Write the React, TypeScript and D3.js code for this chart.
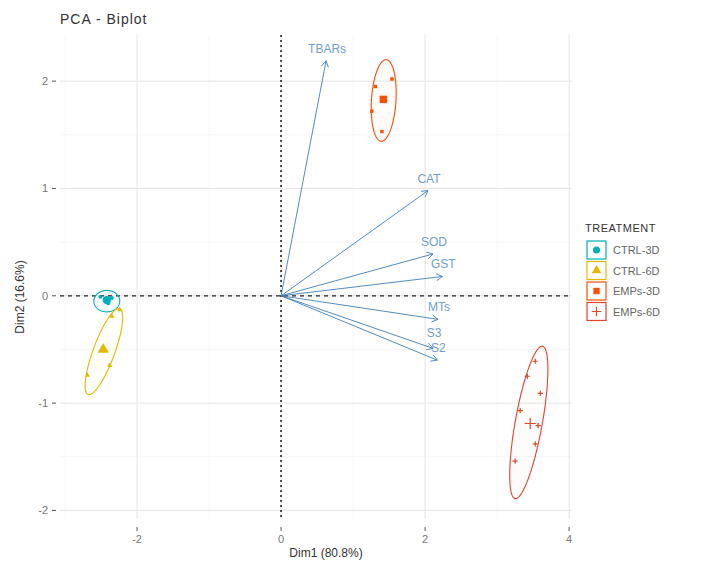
import React, { useEffect, useRef } from 'react';
import * as d3 from 'd3';

// variable arrows (PCA loadings scaled)
const variables = ['TBARs', 'CAT', 'SOD', 'GST', 'MTs', 'S3', 'S2'];
const varX = [0.625, 2.04, 2.11, 2.24, 2.18, 2.11, 2.17];
const varY = [2.19, 0.98, 0.39, 0.18, -0.22, -0.49, -0.6];

// groups
const groups = ['CTRL-3D', 'CTRL-6D', 'EMPs-3D', 'EMPs-6D'];
const groupColors = ['#00AFBB', '#E7B800', '#FC4E07', '#E2452B'];
const groupShapes = ['circle', 'triangle', 'square', 'plus'];
const meanX = [-2.42, -2.47, 1.42, 3.46];
const meanY = [-0.04, -0.5, 1.83, -1.19];

// individuals
const indGroup = [0, 0, 0, 1, 1, 1, 1, 2, 2, 2, 2, 3, 3, 3, 3, 3, 3, 3];
const indX = [-2.51, -2.35, -2.4, -2.35, -2.24, -2.69, -2.38, 1.54, 1.31, 1.26, 1.4, 3.53, 3.42, 3.32, 3.57, 3.53, 3.25, 3.6];
const indY = [-0.01, -0.02, -0.07, -0.19, -0.13, -0.74, -0.65, 2.02, 1.95, 1.72, 1.53, -0.61, -0.75, -1.07, -1.21, -1.38, -1.54, -0.91];

// concentration ellipses: center, major half-axis vector, minor half-axis vector (data units)
const ellCX = [-2.42, -2.46, 1.425, 3.44];
const ellCY = [-0.05, -0.52, 1.82, -1.18];
const ellMajX = [0.18, 0.22, 0.035, 0.19];
const ellMajY = [0.0, 0.4, 0.38, 0.71];
const ellMinX = [0.0, 0.14, 0.17, 0.185];
const ellMinY = [0.1, -0.035, -0.007, -0.022];

const xTicks = [-2, 0, 2, 4];
const yTicks = [-2, -1, 0, 1, 2];
const xMinor = [-3, -1, 1, 3];
const yMinor = [-1.5, -0.5, 0.5, 1.5];

export default function App() {
  const ref = useRef<SVGSVGElement>(null);

  useEffect(() => {
    const svg = d3.select(ref.current);
    svg.selectAll('*').remove();

    const left = 60, right = 572, top = 35, bottom = 519;
    const x = d3.scaleLinear().domain([-3.07, 4.04]).range([left, right]);
    const y = d3.scaleLinear().domain([-2.08, 2.43]).range([bottom, top]);

    svg.append('rect').attr('width', 710).attr('height', 561).attr('fill', '#fff');

    const grid = svg.append('g');
    xMinor.forEach(v => grid.append('line').attr('x1', x(v)).attr('x2', x(v)).attr('y1', top).attr('y2', bottom)
      .attr('stroke', '#f0f0f0').attr('stroke-width', 0.6));
    yMinor.forEach(v => grid.append('line').attr('y1', y(v)).attr('y2', y(v)).attr('x1', left).attr('x2', right)
      .attr('stroke', '#f0f0f0').attr('stroke-width', 0.6));
    xTicks.forEach(v => grid.append('line').attr('x1', x(v)).attr('x2', x(v)).attr('y1', top).attr('y2', bottom)
      .attr('stroke', '#e4e4e4').attr('stroke-width', 1));
    yTicks.forEach(v => grid.append('line').attr('y1', y(v)).attr('y2', y(v)).attr('x1', left).attr('x2', right)
      .attr('stroke', '#e4e4e4').attr('stroke-width', 1));

    // axes text
    const axisFont = 'Liberation Sans, Arial, sans-serif';
    xTicks.forEach(v => {
      svg.append('line').attr('x1', x(v)).attr('x2', x(v)).attr('y1', bottom + 8).attr('y2', bottom + 12)
        .attr('stroke', '#555').attr('stroke-width', 1);
      svg.append('text').attr('x', x(v)).attr('y', bottom + 24).attr('text-anchor', 'middle')
        .attr('font-size', 11).attr('font-family', axisFont).attr('fill', '#777').text(v < 0 ? '-' + Math.abs(v) : String(v));
    });
    yTicks.forEach(v => {
      svg.append('line').attr('x1', left - 8).attr('x2', left - 4).attr('y1', y(v)).attr('y2', y(v))
        .attr('stroke', '#555').attr('stroke-width', 1);
      svg.append('text').attr('x', left - 12).attr('y', y(v) + 4).attr('text-anchor', 'end')
        .attr('font-size', 11).attr('font-family', axisFont).attr('fill', '#777').text(v < 0 ? '-' + Math.abs(v) : String(v));
    });
    svg.append('text').attr('x', (left + right) / 2 + 10).attr('y', 557).attr('text-anchor', 'middle')
      .attr('font-size', 12).attr('font-family', axisFont).attr('fill', '#333').text('Dim1 (80.8%)');
    svg.append('text').attr('transform', `translate(24,${(top + bottom) / 2 + 20}) rotate(-90)`).attr('text-anchor', 'middle')
      .attr('font-size', 12).attr('font-family', axisFont).attr('fill', '#333').text('Dim2 (16.6%)');
    svg.append('text').attr('x', 60).attr('y', 24).attr('font-size', 14).attr('letter-spacing', 1)
      .attr('font-family', axisFont).attr('fill', '#333').text('PCA - Biplot');

    // reference lines
    svg.append('line').attr('x1', left).attr('x2', right).attr('y1', y(0)).attr('y2', y(0))
      .attr('stroke', '#222').attr('stroke-width', 1.3).attr('stroke-dasharray', '4,4');
    svg.append('line').attr('x1', x(0)).attr('x2', x(0)).attr('y1', top).attr('y2', bottom)
      .attr('stroke', '#222').attr('stroke-width', 1.6).attr('stroke-dasharray', '2,3');

    // ellipses
    const ang = d3.range(0, 2 * Math.PI, Math.PI / 60);
    groups.forEach((g, i) => {
      const pts: [number, number][] = ang.map(t => [
        x(ellCX[i] + Math.cos(t) * ellMajX[i] + Math.sin(t) * ellMinX[i]),
        y(ellCY[i] + Math.cos(t) * ellMajY[i] + Math.sin(t) * ellMinY[i]),
      ]);
      svg.append('path').attr('d', d3.line().curve(d3.curveLinearClosed)(pts))
        .attr('fill', groupColors[i]).attr('fill-opacity', 0.02)
        .attr('stroke', groupColors[i]).attr('stroke-width', 1.1);
    });

    const drawShape = (gEl: any, shape: string, cx: number, cy: number, size: number, color: string) => {
      if (shape === 'plus') {
        const h = Math.sqrt(size) * 0.75;
        gEl.append('path').attr('d', `M${cx - h},${cy}H${cx + h}M${cx},${cy - h}V${cy + h}`)
          .attr('stroke', color).attr('stroke-width', 1.2).attr('fill', 'none');
        return;
      }
      const type = shape === 'circle' ? d3.symbolCircle : shape === 'triangle' ? d3.symbolTriangle : d3.symbolSquare;
      gEl.append('path').attr('d', d3.symbol().type(type).size(size)())
        .attr('transform', `translate(${cx},${cy})`).attr('fill', color);
    };

    // individuals
    const ig = svg.append('g');
    indX.forEach((v, k) => {
      const gi = indGroup[k];
      drawShape(ig, groupShapes[gi], x(v), y(indY[k]), 12, groupColors[gi]);
    });
    // group means
    groups.forEach((g, i) => drawShape(ig, groupShapes[i], x(meanX[i]), y(meanY[i]), 55, groupColors[i]));

    // variable arrows
    const ag = svg.append('g');
    variables.forEach((v, i) => {
      const x0 = x(0), y0 = y(0), x1 = x(varX[i]), y1 = y(varY[i]);
      const a = Math.atan2(y1 - y0, x1 - x0);
      const hl = 7, ha = Math.PI / 6;
      ag.append('line').attr('x1', x0).attr('y1', y0).attr('x2', x1).attr('y2', y1)
        .attr('stroke', '#3E7FB8').attr('stroke-width', 0.9);
      ag.append('path').attr('d',
        `M${x1 - hl * Math.cos(a - ha)},${y1 - hl * Math.sin(a - ha)}L${x1},${y1}L${x1 - hl * Math.cos(a + ha)},${y1 - hl * Math.sin(a + ha)}`)
        .attr('stroke', '#3E7FB8').attr('stroke-width', 0.9).attr('fill', 'none');
      // S3 label nudged up a little so it does not sit on S2
      const dy = v === 'S3' ? -11 : -8;
      ag.append('text').attr('x', x1 + 1).attr('y', y1 + dy).attr('text-anchor', 'middle')
        .attr('font-size', 12).attr('font-family', axisFont).attr('fill', '#6F9ED0').text(v);
    });

    // legend
    const lg = svg.append('g');
    lg.append('text').attr('x', 585).attr('y', 232).attr('font-size', 11).attr('letter-spacing', 0.5)
      .attr('font-family', axisFont).attr('fill', '#333').text('TREATMENT');
    groups.forEach((g, i) => {
      const cy = 250 + i * 20.5;
      lg.append('rect').attr('x', 587).attr('y', cy - 9).attr('width', 19).attr('height', 18)
        .attr('fill', '#fff').attr('stroke', groupColors[i]).attr('stroke-width', 1.2);
      drawShape(lg, groupShapes[i], 596.5, cy, 40, groupColors[i]);
      lg.append('text').attr('x', 613).attr('y', cy + 4).attr('font-size', 11)
        .attr('font-family', axisFont).attr('fill', '#666').text(g);
    });
  }, []);

  return <svg ref={ref} width={710} height={561} style={{ display: 'block', position: 'absolute', left: 0, top: 0 }} />;
}
